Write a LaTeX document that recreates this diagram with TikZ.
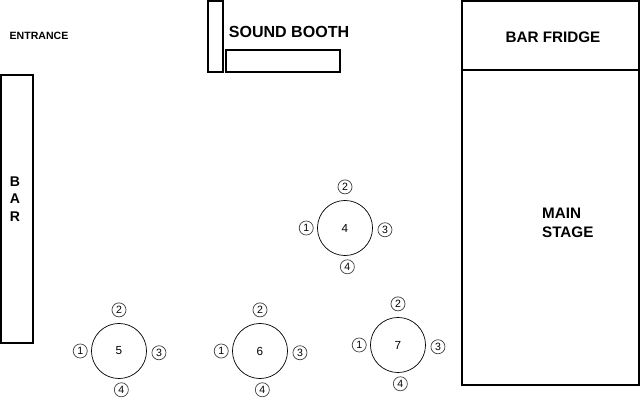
\documentclass[tikz,border=0pt]{standalone}
\usepackage{fontspec}
\setmainfont{Liberation Sans}
\usetikzlibrary{positioning}
\tikzset{
wall/.style={draw, line width=1.1pt},
roomtext/.style={font=\fontsize{13}{16}\selectfont\bfseries},
tbl/.style={draw, circle, line width=0.6pt, minimum size=47pt, inner sep=0pt, font=\fontsize{10}{12}\selectfont},
seat/.style={draw, circle, line width=0.6pt, draw=black!75, minimum size=12pt, inner sep=0pt, font=\fontsize{9}{10}\selectfont}
}

\begin{document}
\begin{tikzpicture}[x=0.03cm, y=-0.03cm]
  \useasboundingbox (0,0) rectangle (640,400);
  % bar and door
  \node[roomtext, font=\fontsize{9}{11}\selectfont\bfseries] (entrance) at (39,36) {ENTRANCE};
  \draw[wall] (1,75) rectangle (33,343);
  \node[roomtext, font=\fontsize{12}{15}\selectfont\bfseries, align=center] (bar) at (15,199) {B\\A\\R};
  % sound booth
  \draw[wall] (208,1) rectangle (223,72);
  \draw[wall] (226,50) rectangle (340,72);
  \node[roomtext, font=\fontsize{13.7}{16}\selectfont\bfseries] (booth) at (289,32) {SOUND BOOTH};
  % stage side
  \draw[wall] (462,1) rectangle (639,70);
  \draw[wall] (462,70) rectangle (639,385);
  \node[roomtext] (fridge) at (553,37) {BAR FRIDGE};
  \node[roomtext, align=left, anchor=west] (stage) at (538,223) {MAIN\\STAGE};
  % tables with four seats each
  \foreach \n/\x/\y in {4/345/228, 5/119/351, 6/260/351, 7/398/345} {
    \node[tbl] (t\n) at (\x,\y) {\n};
    \node[seat, left=3pt of t\n] (t\n-1) {1};
    \node[seat, above=5pt of t\n] (t\n-2) {2};
    \node[seat, right=4pt of t\n, yshift=-1.5pt] (t\n-3) {3};
    \node[seat, below=3pt of t\n, xshift=2pt] (t\n-4) {4};
  }
\end{tikzpicture}
\end{document}
